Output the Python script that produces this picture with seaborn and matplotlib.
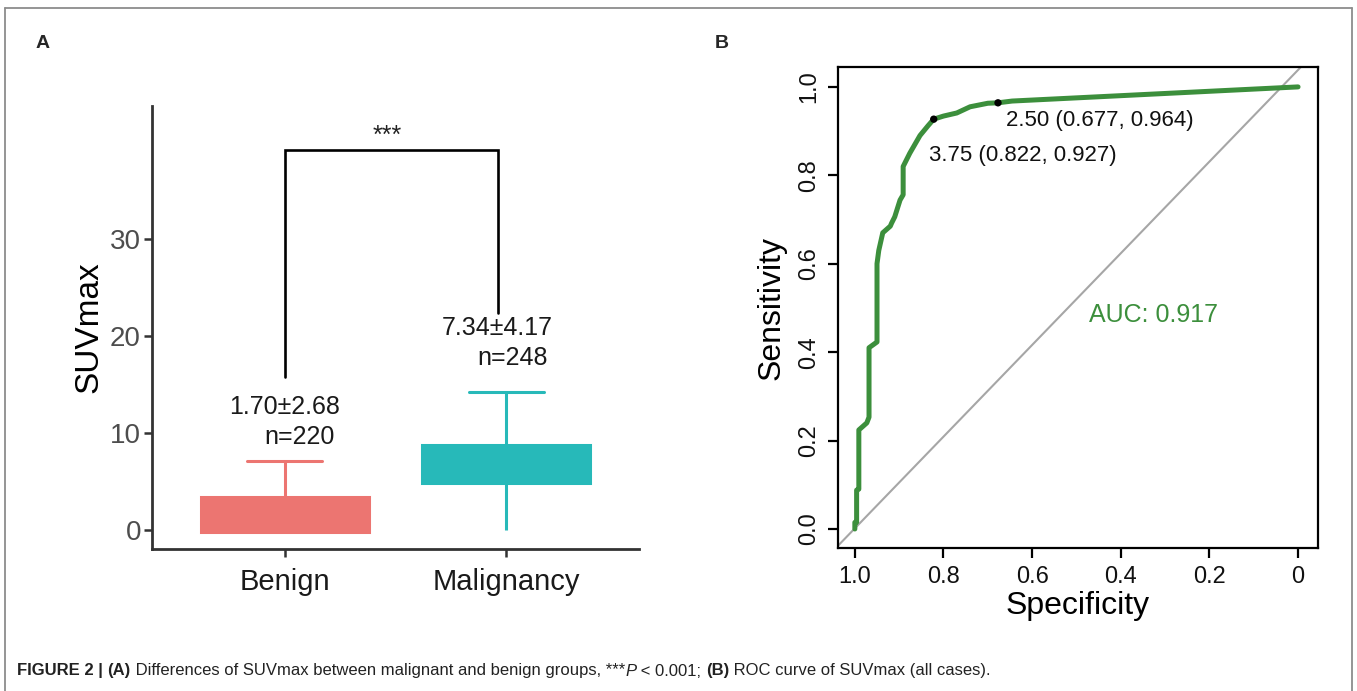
import numpy as np
import pandas as pd
import matplotlib
matplotlib.use("Agg")
import matplotlib.pyplot as plt
import seaborn as sns
from matplotlib.offsetbox import TextArea, HPacker, AnchoredOffsetbox
from matplotlib.lines import Line2D

# ---------------- data ----------------
groups = ["Benign", "Malignancy"]
# five-number summaries: [low whisker, Q1, median, Q3, high whisker]
benign_summary = [-0.29, -0.29, 1.0, 3.33, 7.11]
malig_summary = [0.0, 4.8, 6.5, 8.8, 14.2]
box_colors = ["#EC7571", "#27B9B9"]
mean_sd_labels = ["1.70\u00b12.68", "7.34\u00b14.17"]
n_labels = ["n=220", "n=248"]
sig_label = "***"

# ROC curve (specificity, sensitivity)
roc_spec = [1.000, 1.000, 0.996, 0.996, 0.991, 0.991, 0.973, 0.968, 0.968, 0.950,
            0.950, 0.946, 0.937, 0.920, 0.917, 0.910, 0.898, 0.891, 0.891, 0.876,
            0.853, 0.835, 0.822, 0.800, 0.770, 0.740, 0.700, 0.677, 0.645, 0.000]
roc_sens = [0.000, 0.015, 0.015, 0.088, 0.090, 0.224, 0.240, 0.253, 0.410, 0.423,
            0.600, 0.630, 0.670, 0.685, 0.692, 0.706, 0.744, 0.756, 0.820, 0.850,
            0.890, 0.912, 0.927, 0.934, 0.941, 0.955, 0.963, 0.964, 0.968, 1.000]
thr_spec = [0.822, 0.677]
thr_sens = [0.927, 0.964]
thr_labels = ["3.75 (0.822, 0.927)", "2.50 (0.677, 0.964)"]
auc_label = "AUC: 0.917"
x_ticks_b = [1.0, 0.8, 0.6, 0.4, 0.2, 0.0]
x_ticklabels_b = ["1.0", "0.8", "0.6", "0.4", "0.2", "0"]
y_ticks_b = [0.0, 0.2, 0.4, 0.6, 0.8, 1.0]
y_ticklabels_b = ["0.0", "0.2", "0.4", "0.6", "0.8", "1.0"]
y_ticks_a = [0, 10, 20, 30]

# ---------------- style ----------------
sns.set_theme(style="white")
plt.rcParams["font.family"] = ["Liberation Sans", "DejaVu Sans"]

W, H = 1357, 691
fig = plt.figure(figsize=(W / 100, H / 100), dpi=100)

def ax_rect(l, t, r, b):
    return [l / W, 1 - b / H, (r - l) / W, (b - t) / H]

# ---------------- panel A ----------------
axA = fig.add_axes(ax_rect(152, 106, 639, 549))
df = pd.DataFrame({
    "group": [groups[0]] * len(benign_summary) + [groups[1]] * len(malig_summary),
    "SUVmax": benign_summary + malig_summary,
})
for g, col in zip(groups, box_colors):
    sns.boxplot(data=df[df["group"] == g], x="group", y="SUVmax", order=groups,
                color=col, linecolor=col, saturation=1, width=0.76,
                linewidth=2.2, whis=1.5, fliersize=0, ax=axA)

# caps: keep only the upper one, narrower; drop the lower ones
low_vals = [benign_summary[0], malig_summary[0]]
high_vals = [benign_summary[-1], malig_summary[-1]]
for ln in list(axA.lines):
    xd = np.asarray(ln.get_xdata(), dtype=float)
    yd = np.asarray(ln.get_ydata(), dtype=float)
    if len(xd) == 2 and np.isclose(yd[0], yd[1]) and not np.isclose(xd[0], xd[1]):
        c = xd.mean()
        if any(np.isclose(yd[0], v) for v in low_vals):
            ln.remove()
        elif any(np.isclose(yd[0], v) for v in high_vals):
            ln.set_xdata([c - 0.17, c + 0.17])

axA.set_xlim(-0.6, 1.6)
axA.set_ylim(-2.0, 43.8)
axA.set_yticks(y_ticks_a)
axA.set_xlabel("")
axA.set_ylabel("SUVmax", fontsize=24, color="black", labelpad=4)
for s in ["top", "right"]:
    axA.spines[s].set_visible(False)
for s in ["left", "bottom"]:
    axA.spines[s].set_color("#333333")
    axA.spines[s].set_linewidth(2.0)
axA.tick_params(axis="both", length=6, width=1.8, color="#333333", direction="out",
                left=True, bottom=True)
axA.tick_params(axis="y", labelsize=20, labelcolor="#4D4D4D", pad=2)
axA.tick_params(axis="x", labelsize=21, labelcolor="#1a1a1a", pad=8)

# annotations
axA.text(0.0, 12.7, mean_sd_labels[0], ha="center", va="center", fontsize=18, color="#1a1a1a")
axA.text(0.068, 9.6, n_labels[0], ha="center", va="center", fontsize=18, color="#1a1a1a")
axA.text(0.958, 20.8, mean_sd_labels[1], ha="center", va="center", fontsize=18, color="#1a1a1a")
axA.text(1.027, 17.7, n_labels[1], ha="center", va="center", fontsize=18, color="#1a1a1a")
axA.plot([0.0, 0.0, 0.964, 0.964], [15.8, 39.2, 39.2, 22.4], color="black", lw=1.9,
         solid_joinstyle="miter")
axA.text(0.4626, 40.7, sig_label, ha="center", va="center", fontsize=18, color="#222222")

# ---------------- panel B ----------------
axB = fig.add_axes(ax_rect(838, 67, 1318, 548))
axB.plot([1.04, -0.045], [-0.04, 1.085], color="#A6A6A6", lw=1.5, zorder=1)
roc_df = pd.DataFrame({"Specificity": roc_spec, "Sensitivity": roc_sens})
sns.lineplot(data=roc_df, x="Specificity", y="Sensitivity", sort=False, estimator=None,
             color="#3C8F3C", lw=3.6, ax=axB, zorder=2)
sns.scatterplot(x=thr_spec, y=thr_sens, color="black", s=28, edgecolor="none", ax=axB, zorder=3)
axB.text(0.833, 0.844, thr_labels[0], ha="left", va="center", fontsize=16, color="#111111")
axB.text(0.659, 0.925, thr_labels[1], ha="left", va="center", fontsize=16, color="#111111")
axB.text(0.327, 0.484, auc_label, ha="center", va="center", fontsize=18, color="#3C8F3C")

axB.set_xlim(1.038, -0.045)
axB.set_ylim(-0.043, 1.045)
axB.set_xticks(x_ticks_b)
axB.set_xticklabels(x_ticklabels_b)
axB.set_yticks(y_ticks_b)
axB.set_yticklabels(y_ticklabels_b, rotation=90, va="center")
for s in axB.spines.values():
    s.set_color("black")
    s.set_linewidth(1.6)
axB.tick_params(axis="both", length=7, width=1.6, color="black", direction="out",
                left=True, bottom=True, labelsize=17, labelcolor="#111111")
axB.tick_params(axis="x", pad=6)
axB.tick_params(axis="y", pad=6)
axB.set_xlabel("Specificity", fontsize=23, color="black", labelpad=2)
axB.set_ylabel("Sensitivity", fontsize=23, color="black", labelpad=8)

# ---------------- figure decorations ----------------
fig.text(43 / W, 1 - 44 / H, "A", fontsize=14, fontweight="bold", ha="center", va="center")
fig.text(722 / W, 1 - 44 / H, "B", fontsize=14, fontweight="bold", ha="center", va="center")

border_col = "#8c8c8c"
fig.add_artist(Line2D([4.5 / W, 4.5 / W], [0, 1 - 8 / H], transform=fig.transFigure, color=border_col, lw=1.3))
fig.add_artist(Line2D([1352 / W, 1352 / W], [0, 1 - 8 / H], transform=fig.transFigure, color=border_col, lw=1.3))
fig.add_artist(Line2D([4.5 / W, 1352 / W], [1 - 8 / H, 1 - 8 / H], transform=fig.transFigure, color=border_col, lw=1.3))

cap_family = ["Liberation Sans Narrow", "Liberation Sans", "DejaVu Sans"]
cap_size = 12
parts = [
    ("FIGURE 2 | ", "bold", "normal"),
    ("(A)", "bold", "normal"),
    (" Differences of SUVmax between malignant and benign groups, ***", "normal", "normal"),
    ("P", "normal", "italic"),
    (" < 0.001; ", "normal", "normal"),
    ("(B)", "bold", "normal"),
    (" ROC curve of SUVmax (all cases).", "normal", "normal"),
]
areas = [TextArea(t, textprops=dict(fontsize=cap_size, fontweight=w, fontstyle=st,
                                    family=cap_family, color="#222222"))
         for t, w, st in parts]
pack = HPacker(children=areas, align="baseline", pad=0, sep=0)
anch = AnchoredOffsetbox(loc="center left", child=pack, pad=0, borderpad=0, frameon=False,
                         bbox_to_anchor=(17 / W, 1 - 671 / H), bbox_transform=fig.transFigure)
fig.add_artist(anch)

fig.savefig("out.png", dpi=100, facecolor="white")
